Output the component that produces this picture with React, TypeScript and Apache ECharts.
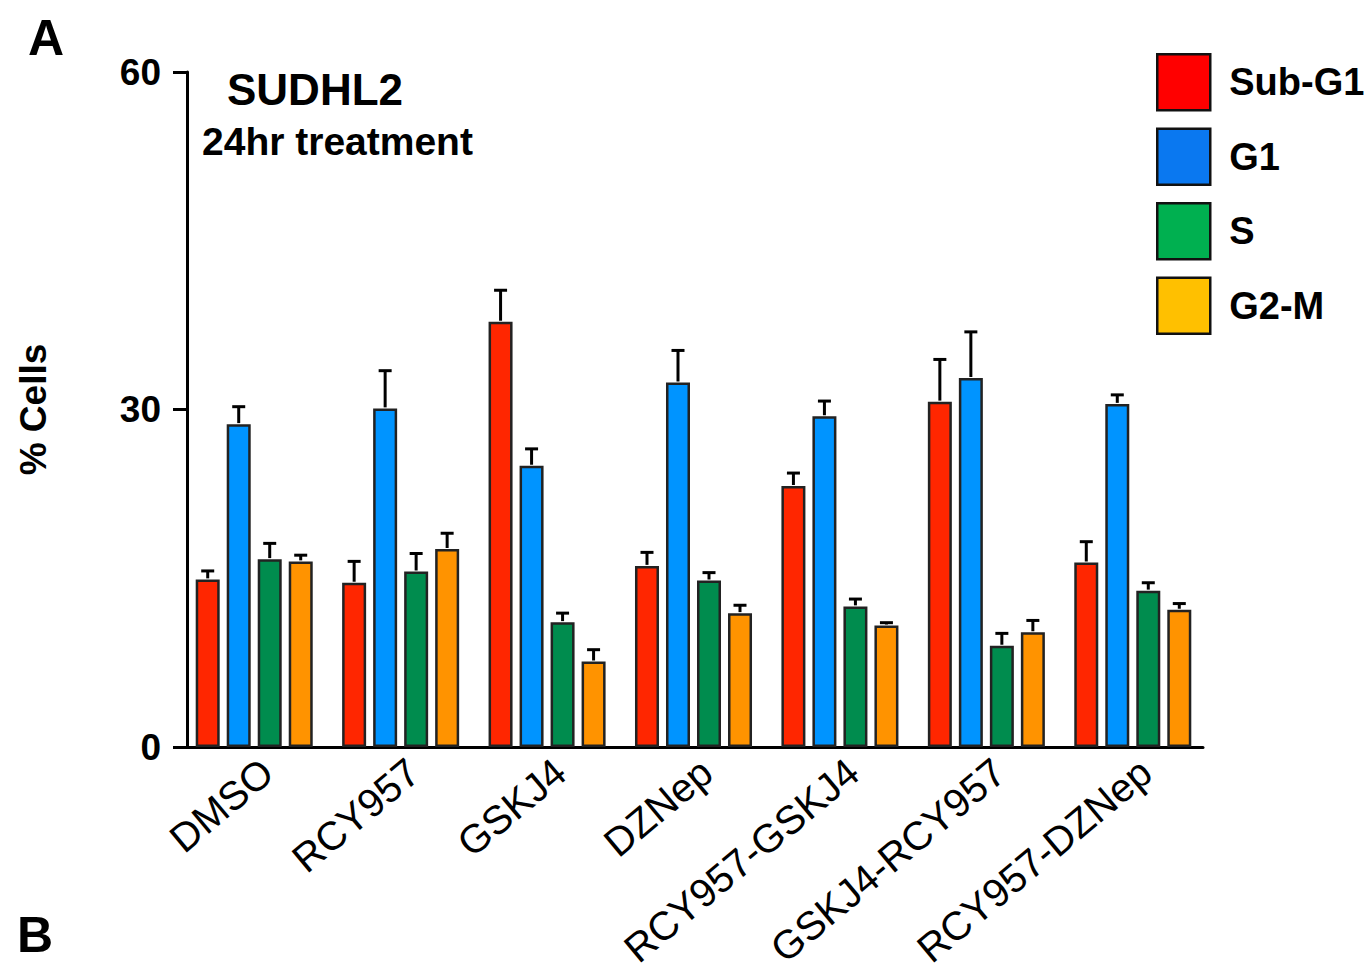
import React, { useEffect, useRef } from "react";
import * as echarts from "echarts";

const categories = ["DMSO", "RCY957", "GSKJ4", "DZNep", "RCY957-GSKJ4", "GSKJ4-RCY957", "RCY957-DZNep"];
const seriesNames = ["Sub-G1", "G1", "S", "G2-M"];
const subG1 = [14.9, 14.6, 37.8, 16.1, 23.2, 30.7, 16.4];
const subG1Err = [0.75, 1.9, 2.8, 1.2, 1.15, 3.75, 1.85];
const g1 = [28.7, 30.1, 25.0, 32.4, 29.4, 32.8, 30.5];
const g1Err = [1.55, 3.35, 1.5, 2.85, 1.35, 4.1, 0.8];
const sPhase = [16.7, 15.6, 11.1, 14.8, 12.5, 9.0, 13.9];
const sPhaseErr = [1.4, 1.6, 0.8, 0.7, 0.65, 1.1, 0.7];
const g2m = [16.5, 17.6, 7.6, 11.9, 10.8, 10.2, 12.2];
const g2mErr = [0.55, 1.4, 1.05, 0.7, 0.25, 1.05, 0.55];
const yTicks = [0, 30, 60];

const barColors = ["#ff2600", "#0094ff", "#008c4e", "#ff9300"];
const legendColors = ["#ff0000", "#0a78f0", "#00b050", "#ffc000"];

const FONT = "Arial, 'Liberation Sans', Helvetica, sans-serif";
const BAR_W = 24;
const BAR_GAP = 7;

export default function App() {
  const ref = useRef<HTMLDivElement>(null);
  useEffect(() => {
    document.body.style.margin = "0";
    if (!ref.current) return;
    const chart = echarts.init(ref.current, null, { renderer: "svg" });
    const values = [subG1, g1, sPhase, g2m];
    const errs = [subG1Err, g1Err, sPhaseErr, g2mErr];

    const barSeries = values.map((vals, k) => ({
      type: "bar",
      name: seriesNames[k],
      xAxisIndex: 1,
      yAxisIndex: 1,
      data: vals,
      barWidth: BAR_W,
      barGap: ((BAR_GAP / BAR_W) * 100).toFixed(1) + "%",
      itemStyle: { color: barColors[k], borderColor: "#222", borderWidth: 2.5 },
      z: 2,
    }));

    const errSeries = values.map((vals, k) => ({
      type: "custom",
      name: "err-" + seriesNames[k],
      xAxisIndex: 1,
      yAxisIndex: 1,
      z: 3,
      data: vals.map((v, i) => [i, v, errs[k][i]]),
      encode: { x: 0, y: 1 },
      renderItem: (params: any, api: any) => {
        const idx = api.value(0);
        const v = api.value(1);
        const e = api.value(2);
        const base = api.coord([idx, v]);
        const top = api.coord([idx, v + e]);
        const x = base[0] + (k - 1.5) * (BAR_W + BAR_GAP);
        return {
          type: "group",
          children: [
            { type: "line", shape: { x1: x, y1: base[1] - 1, x2: x, y2: top[1] }, style: { stroke: "#000", lineWidth: 3 } },
            { type: "line", shape: { x1: x - 6.5, y1: top[1], x2: x + 6.5, y2: top[1] }, style: { stroke: "#000", lineWidth: 3 } },
          ],
        };
      },
    }));

    chart.setOption({
      animation: false,
      backgroundColor: "#fff",
      textStyle: { fontFamily: FONT },
      title: [
        { text: "SUDHL2", left: 222, top: 62, textStyle: { fontSize: 44, fontWeight: "bold", color: "#000", fontFamily: FONT } },
        { text: "24hr treatment", left: 197, top: 117, textStyle: { fontSize: 39, fontWeight: "bold", color: "#000", fontFamily: FONT } },
        { text: "A", left: 23, top: 8, textStyle: { fontSize: 50, fontWeight: "bold", color: "#000", fontFamily: FONT } },
        { text: "B", left: 12, top: 905, textStyle: { fontSize: 50, fontWeight: "bold", color: "#000", fontFamily: FONT } },
      ],
      legend: {
        orient: "vertical",
        left: 1151,
        top: 48,
        itemWidth: 53,
        itemHeight: 56,
        itemGap: 16,
        icon: "rect",
        textStyle: { fontSize: 38, fontWeight: "bold", color: "#000", fontFamily: FONT, padding: [6, 0, 0, 14] },
        data: seriesNames.map((n, k) => ({
          name: n,
          itemStyle: { color: legendColors[k], borderColor: "#111", borderWidth: 2.5 },
        })),
      },
      grid: [
        { left: 187, right: 169, top: 72, bottom: 224 },
        { left: 181, right: 166, top: 72, bottom: 224 },
        { left: 194, right: 153, top: 72, bottom: 224 },
      ],
      xAxis: [
        {
          type: "value",
          gridIndex: 0,
          min: 0,
          max: 1,
          axisLine: { show: true, lineStyle: { color: "#000", width: 3 } },
          axisTick: { show: false },
          axisLabel: { show: false },
          splitLine: { show: false },
        },
        {
          type: "category",
          gridIndex: 1,
          data: categories,
          axisLine: { show: false },
          axisTick: { show: false },
          axisLabel: { show: false },
        },
        {
          type: "category",
          gridIndex: 2,
          data: categories,
          axisLine: { show: false },
          axisTick: { show: false },
          axisLabel: {
            rotate: 40,
            interval: 0,
            margin: 26,
            fontSize: 40,
            color: "#000",
            fontFamily: FONT,
          },
        },
      ],
      yAxis: [
        {
          type: "value",
          gridIndex: 0,
          min: yTicks[0],
          max: yTicks[yTicks.length - 1],
          interval: yTicks[1] - yTicks[0],
          name: "% Cells",
          nameLocation: "middle",
          nameGap: 135,
          nameTextStyle: { fontSize: 37, fontWeight: "bold", color: "#000", fontFamily: FONT },
          axisLine: { show: true, lineStyle: { color: "#000", width: 3 } },
          axisTick: { show: true, length: 14, lineStyle: { color: "#000", width: 3 } },
          axisLabel: { fontSize: 37, fontWeight: "bold", color: "#000", margin: 26, fontFamily: FONT },
          splitLine: { show: false },
        },
        {
          type: "value",
          gridIndex: 1,
          min: yTicks[0],
          max: yTicks[yTicks.length - 1],
          show: false,
          splitLine: { show: false },
        },
        {
          type: "value",
          gridIndex: 2,
          min: yTicks[0],
          max: yTicks[yTicks.length - 1],
          show: false,
          splitLine: { show: false },
        },
      ],
      series: [...barSeries, ...errSeries],
    });
    return () => chart.dispose();
  }, []);
  return <div ref={ref} style={{ width: 1372, height: 971 }} />;
}
